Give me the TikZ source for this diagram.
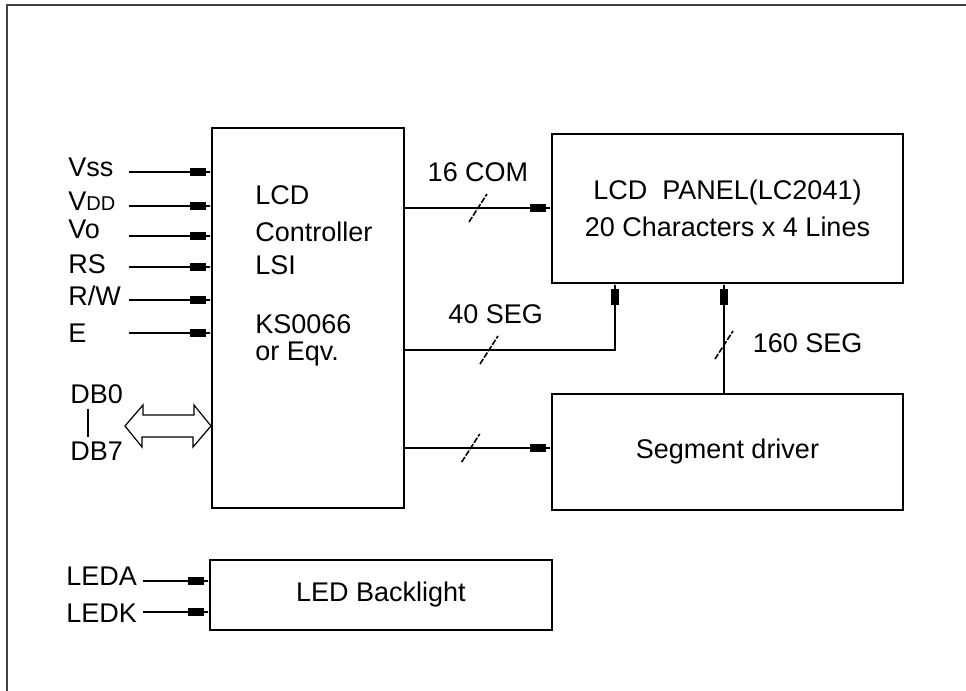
\documentclass[tikz,border=0pt]{standalone}
\usepackage{fontspec}
\setmainfont{Liberation Sans}
\usetikzlibrary{arrows.meta}
\tikzstyle{block} = [rectangle, draw=black, line width=1pt, inner sep=0pt]
\tikzstyle{txt} = [inner sep=0pt]
\tikzstyle{lab} = [anchor=base west, inner sep=0pt]
\tikzstyle{sig} = [line width=0.9pt, -{Rectangle[length=8pt,width=3.8pt]Rectangle[length=2.5pt,width=0.9pt]}]
\tikzstyle{wire} = [line width=0.9pt]
\tikzstyle{busarrow} = [line width=0.6pt, line join=miter]
\tikzstyle{frame} = [line width=1.4pt, draw=black!75]
\tikzset{pics/busslash/.style={code={\draw[-, line width=0.8pt, dash pattern=on 3pt off 0.8pt] (-9,14) -- (9,-14);}}}

\begin{document}
\begin{tikzpicture}[x=0.5pt, y=-0.5pt, font=\fontsize{13.5}{16}\selectfont]
\useasboundingbox (0,0) rectangle (966,691);
\draw[frame] (966,5) -- (7,5) -- (7,691);

%%%%% MAIN BLOCKS
\node (ctrl) [block, minimum width=96pt, minimum height=190pt] at (308,318) {};
\node (ctrltxt) [txt, anchor=north west, align=left] at (255,185) {LCD\\[2.5pt]Controller\\[0.5pt]LSI\\[13.5pt]KS0066\\[-2.5pt]or Eqv.};
\node (panel) [block, minimum width=175.5pt, minimum height=74.5pt, align=center] at (727.5,208.5) {LCD\ \ PANEL(LC2041)\\[2.5pt]20 Characters x 4 Lines};
\node (seg) [block, minimum width=175.5pt, minimum height=58pt] at (727.5,452) {Segment driver};
\node (led) [block, minimum width=171pt, minimum height=35pt] at (381,595) {LED Backlight};

%%%%% INPUT LABELS
\node (vss) [lab] at (68,176) {Vss};
\node (vdd) [lab] at (68,210) {V{\fontsize{10}{12}\selectfont DD}};
\node (vo) [lab] at (68,238) {Vo};
\node (rs) [lab] at (68,273) {RS};
\node (rw) [lab] at (68,305) {R/W};
\node (e) [lab] at (68,342) {E};
\node (db0) [lab] at (70,403) {DB0};
\node (db7) [lab] at (70,460) {DB7};
\node (leda) [lab] at (66,585) {LEDA};
\node (ledk) [lab] at (66,622) {LEDK};

% free ends of the input lines
\coordinate (vssin) at (129,172);
\coordinate (vddin) at (129,206);
\coordinate (voin) at (129,236);
\coordinate (rsin) at (129,267);
\coordinate (rwin) at (129,300);
\coordinate (ein) at (129,333);
\coordinate (dbtip) at (125,426);
\coordinate (ledain) at (143,581);
\coordinate (ledkin) at (143,612);

%%%%% ADDING ARROWS
\draw [sig] (vssin) -- (vssin -| ctrl.west);
\draw [sig] (vddin) -- (vddin -| ctrl.west);
\draw [sig] (voin) -- (voin -| ctrl.west);
\draw [sig] (rsin) -- (rsin -| ctrl.west);
\draw [sig] (rwin) -- (rwin -| ctrl.west);
\draw [sig] (ein) -- (ein -| ctrl.west);
\draw [wire, shorten <=2.5pt, shorten >=2pt] ([xshift=9pt]db0.south west) -- ([xshift=9pt]db7.north west);
\draw [busarrow] (dbtip) -- ++(18,-21) -- ++(0,10) -- ++(51,0) -- ++(0,-10) -- (dbtip -| ctrl.west) -- ++(-18,21) -- ++(0,-10) -- ++(-51,0) -- ++(0,10) -- cycle;
\draw [sig] (ledain) -- (ledain -| led.west);
\draw [sig] (ledkin) -- (ledkin -| led.west);

% buses
\draw [sig] (ctrl.east |- 0,208) -- pic[pos=0.5]{busslash} node[txt, pos=0.5, above=12.5pt] {16 COM} (panel.west |- 0,208);
\draw [sig] (ctrl.east |- 0,350) -| pic[pos=0.2]{busslash} node[txt, pos=0.216, above=12.5pt] {40 SEG} (panel.south -| 615,0);
\draw [sig] (ctrl.east |- 0,448) -- pic[pos=0.45]{busslash} (seg.west |- 0,448);
\draw [sig] (seg.north -| 724,0) -- pic[pos=0.44]{busslash} node[txt, pos=0.46, right=14pt] {160 SEG} (panel.south -| 724,0);
\end{tikzpicture}
\end{document}
